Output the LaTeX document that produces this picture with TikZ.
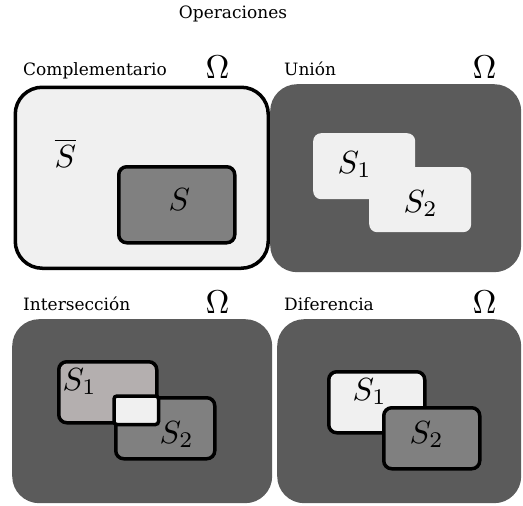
\documentclass[tikz,border=0pt]{standalone}
\usepackage{fontspec}
\setmainfont{DejaVu Serif}
\definecolor{paper}{HTML}{F0F0F0}
\definecolor{ground}{HTML}{5B5B5B}
\definecolor{setgray}{HTML}{808080}
\definecolor{rosegray}{HTML}{B4AFAF}
\begin{document}
\begin{tikzpicture}[x=1pt,y=-1pt,
  panel/.style={rectangle, rounded corners=27pt, inner sep=0pt, anchor=north west},
  setbox/.style={rectangle, rounded corners=8pt, inner sep=0pt, anchor=north west},
  ringed/.style={draw=black, line width=3.5pt},
  heading/.style={anchor=base west, inner sep=0pt, font=\fontsize{17}{19}\selectfont},
  omega/.style={anchor=base, inner sep=0pt, font=\fontsize{10}{12}\selectfont, scale=3.3},
  setname/.style={anchor=base west, inner sep=0pt, font=\fontsize{10}{12}\selectfont, scale=3.2}]
\useasboundingbox (0,0) rectangle (523,506);

\node[anchor=base, inner sep=0pt, font=\fontsize{17}{19}\selectfont] (title) at (233,18) {Operaciones};

% Complementario
\node[heading] (hcompl) at (23,75) {Complementario};
\node[omega] (omcompl) at (217.5,78) {$\Omega$};
\node[panel, ringed, fill=paper, minimum width=253pt, minimum height=181pt] (compl) at (13.5,85.5) {};
\node[setbox, ringed, fill=setgray, minimum width=116pt, minimum height=76pt] (sc) at (117,165) {};
\node[setname] (lbar) at (54,167) {$\overline{S}$};
\node[setname] (ls) at (168,210) {$S$};

% Union
\node[heading] (hunion) at (284,75) {Unión};
\node[omega] (omunion) at (484.5,78) {$\Omega$};
\node[panel, fill=ground, minimum width=251pt, minimum height=188pt] (union) at (270,84) {};
\node[setbox, fill=paper, minimum width=102pt, minimum height=66pt] (u1) at (313,133) {};
\node[setbox, fill=paper, minimum width=102pt, minimum height=65pt] (u2) at (369,167) {};
\node[setname] (lu1) at (337,173) {$S_1$};
\node[setname] (lu2) at (403,212) {$S_2$};

% Interseccion
\node[heading] (hinter) at (23,310) {Intersección};
\node[omega] (ominter) at (217.5,313) {$\Omega$};
\node[panel, fill=ground, minimum width=260pt, minimum height=184pt] (inter) at (12,319) {};
\node[setbox, ringed, fill=rosegray, minimum width=98pt, minimum height=61pt] (i1) at (57,360) {};
\node[setbox, ringed, fill=setgray, minimum width=99pt, minimum height=61pt] (i2) at (114,396) {};
\draw[ringed, fill=paper, rounded corners=3pt] (i2.north west) rectangle (i1.south east);
\node[setname] (li1) at (62,390) {$S_1$};
\node[setname] (li2) at (159,443) {$S_2$};

% Diferencia
\node[heading] (hdiff) at (284,310) {Diferencia};
\node[omega] (omdiff) at (484.5,313) {$\Omega$};
\node[panel, fill=ground, minimum width=244pt, minimum height=184pt] (diff) at (277,319) {};
\node[setbox, ringed, fill=paper, minimum width=96pt, minimum height=61pt] (d1) at (327,370) {};
\node[setname] (ld1) at (352,400) {$S_1$};
\node[setbox, ringed, fill=setgray, minimum width=96pt, minimum height=61pt] (d2) at (382,406) {};
\node[setname] (ld2) at (409,443) {$S_2$};
\end{tikzpicture}
\end{document}
